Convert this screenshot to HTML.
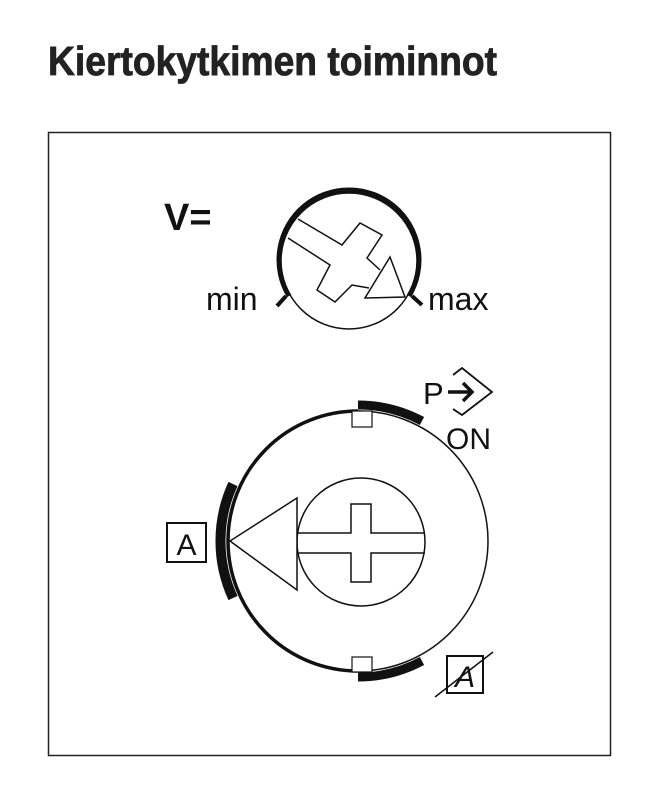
<!DOCTYPE html>
<html><head><style>html,body{margin:0;padding:0;background:#fff}</style></head>
<body>
<svg width="663" height="800" viewBox="0 0 663 800" xmlns="http://www.w3.org/2000/svg" style="display:block">
<text x="48" y="75" font-family="Liberation Sans, sans-serif" font-weight="bold" font-size="41" fill="#222" stroke="#222" stroke-width="0.8" textLength="449" lengthAdjust="spacingAndGlyphs">Kiertokytkimen toiminnot</text>
<rect x="48.5" y="132.5" width="562" height="623" fill="none" stroke="#222" stroke-width="1.5"/>
<g font-family="Liberation Sans, sans-serif" fill="#111">
<text x="164" y="230" font-weight="bold" font-size="38">V=</text>
<text x="206" y="310" font-size="32">min</text>
<text x="428" y="310" font-size="32">max</text>
<text x="423" y="404" font-size="31">P</text>
<text x="446" y="449" font-size="30">ON</text>
</g>
<g fill="none" stroke="#111">
<!-- top dial -->
<circle cx="349" cy="261" r="68" stroke-width="1.5"/>
<path d="M289 296 A70 70 0 1 1 409 296" stroke-width="5"/>
<line x1="277" y1="306" x2="286" y2="296" stroke-width="4"/>
<line x1="412" y1="296" x2="422" y2="305" stroke-width="4"/>
<path d="M298 219 L342 245 L360 223 L382 235 L367 258 L380 270" stroke-width="1.5"/>
<path d="M288 238 L330 265 L317 290 L335 302 L352 285 L369 288" stroke-width="1.5"/>
<path d="M390 257 L365 298 L405 297 Z" stroke-width="1.5" fill="#fff"/>
<!-- big dial -->
<circle cx="358" cy="541" r="130" stroke-width="1.5"/>
<path d="M358 411 A130 130 0 0 0 358 671" stroke-width="3.5"/>
<path d="M358 405 A136 136 0 0 1 422 421" stroke-width="9"/>
<path d="M358 677 A136 136 0 0 0 422 661" stroke-width="9"/>
<path d="M233 484 A136 136 0 0 0 233 598" stroke-width="10"/>
<rect x="352" y="411" width="20" height="16" stroke-width="1.2" fill="#fff"/>
<rect x="352" y="657" width="20" height="15" stroke-width="1.2" fill="#fff"/>
<circle cx="361" cy="542" r="64" stroke-width="1.5"/>
<path d="M297 533 L351 533 L351 504 L371 504 L371 533 L425 533 M425 553 L371 553 L371 582 L351 582 L351 553 L297 553" stroke-width="1.5"/>
<path d="M230 541 L297 498 L297 590 Z" stroke-width="1.5" fill="#fff"/>
<!-- labels -->
<rect x="167" y="523" width="39" height="39" stroke-width="2"/>
<rect x="447" y="656" width="36" height="37" stroke-width="2"/>
<line x1="435" y1="697" x2="493" y2="652" stroke-width="1.5"/>
<path d="M448 392 L472 392 M463 383 L472 392 L463 401" stroke-width="3.5"/>
<path d="M453 375 L462 368 L492 392 L462 415 L453 409" stroke-width="1.8"/>
</g>
<g font-family="Liberation Sans, sans-serif" fill="#111">
<text x="186.5" y="555" font-size="30" text-anchor="middle">A</text>
<text x="465" y="687" font-size="30" text-anchor="middle" font-style="italic">A</text>
</g>
</svg>
</body></html>
